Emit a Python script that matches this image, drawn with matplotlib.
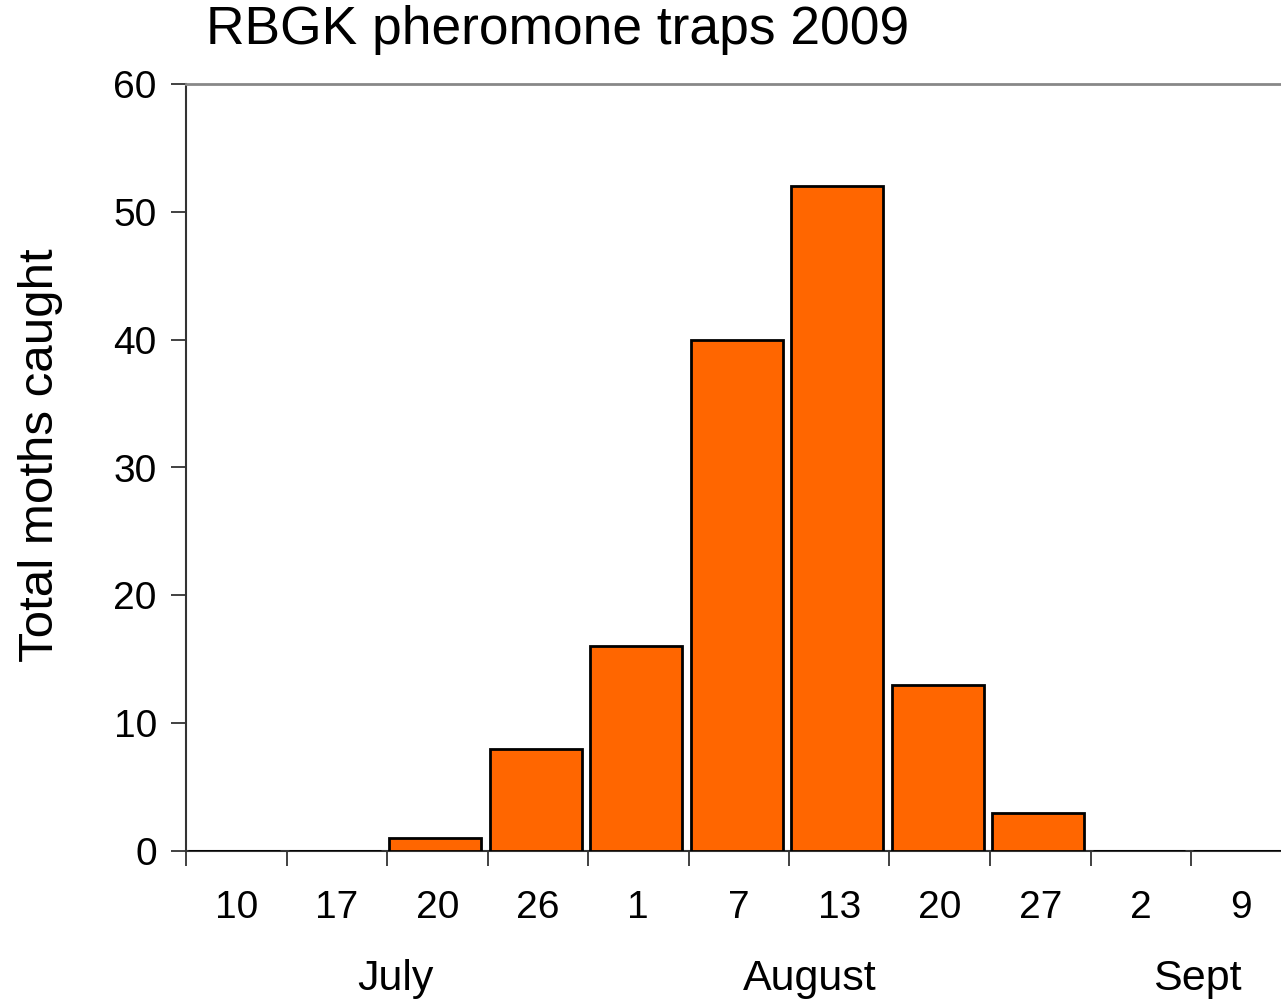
import numpy as np
import matplotlib.pyplot as plt
from matplotlib.transforms import blended_transform_factory

plt.rcParams['font.family'] = ['Liberation Sans', 'DejaVu Sans']

# trap dates and totals
days = ['10', '17', '20', '26', '1', '7', '13', '20', '27', '2', '9']
moths = [0, 0, 1, 8, 16, 40, 52, 13, 3, 0, 0]
months = ['July', 'August', 'Sept']
month_pos = [1.58, 5.71, 9.56]

fig = plt.figure(figsize=(12.81, 10.05), dpi=100)
W, H = 1281, 1005
x0, x1 = 186, 186 + 11 * 100.5
ax = fig.add_axes([x0 / W, (H - 851) / H, (x1 - x0) / W, (851 - 84) / H])

x = np.arange(len(days))
ax.bar(x - 0.02, moths, width=0.92, color='#FF6600', edgecolor='black', linewidth=2, zorder=3)

ax.set_xlim(-0.5, len(days) - 0.5)
ax.set_ylim(0, 60)
ax.set_yticks(range(0, 61, 10))
ax.tick_params(axis='y', labelsize=28, direction='out', length=11, width=1.3,
               color='#333333', pad=10)

# day labels centered under bars, ticks between bars
ax.set_xticks(np.arange(-0.5, len(days), 1.0))
ax.set_xticklabels([])
ax.set_xticks(x, minor=True)
ax.set_xticklabels(days, minor=True)
ax.tick_params(axis='x', which='major', direction='out', length=11, width=1.3, color='#333333')
ax.tick_params(axis='x', which='minor', length=0, labelsize=28, pad=28)

for s in ['left', 'bottom']:
    ax.spines[s].set_color('#333333')
    ax.spines[s].set_linewidth(1.5)
ax.spines['top'].set_color('#888888')
ax.spines['top'].set_linewidth(2)
ax.spines['right'].set_visible(False)

tr = blended_transform_factory(ax.transData, ax.transAxes)
for m, p in zip(months, month_pos):
    ax.text(p, -0.1665, m, transform=tr, ha='center', va='center', fontsize=31)

ax.set_ylabel('Total moths caught', fontsize=35.5)
ax.yaxis.set_label_coords(-0.111, 0.516)
fig.text(206 / W, 1 - 30 / H, 'RBGK pheromone traps 2009', fontsize=38.4,
         ha='left', va='center')

fig.savefig('out.png', dpi=100)
